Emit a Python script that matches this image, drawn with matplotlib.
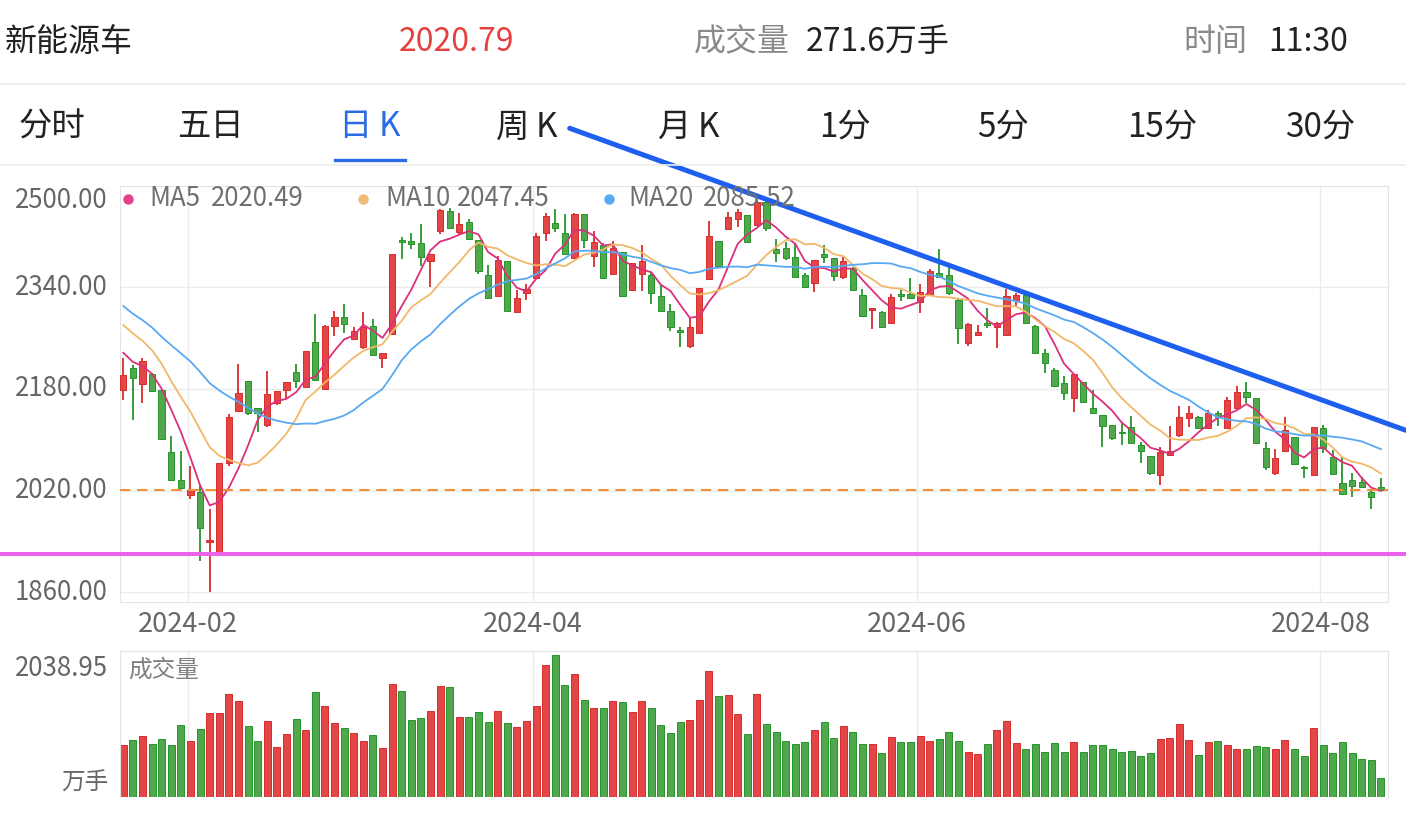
import numpy as np
import pandas as pd
import matplotlib
matplotlib.use('Agg')
import matplotlib.pyplot as plt

plt.rcParams['font.family'] = ['Noto Sans CJK SC', 'DejaVu Sans']

# ---- data (daily K, 2024-01-23 .. 2024-08-09) ----
opens = [2178.3, 2212.4, 2187.8, 2203.0, 2178.3, 2081.3, 2036.8, 2013.2, 2018.4, 1938.7,
         1924.0, 2064.0, 2145.3, 2192.5, 2149.5, 2123.3, 2158.4, 2178.3, 2206.1, 2183.6,
         2253.3, 2179.4, 2279.5, 2293.7, 2259.1, 2246.5, 2279.5, 2229.2, 2266.4, 2414.3,
         2413.2, 2409.0, 2381.2, 2429.0, 2460.4, 2427.4, 2443.1, 2414.3, 2359.2, 2326.2,
         2381.2, 2300.5, 2330.4, 2354.0, 2424.8, 2440.5, 2424.8, 2385.4, 2454.7, 2389.6,
         2406.4, 2360.3, 2396.0, 2335.6, 2360.8, 2359.2, 2326.2, 2302.6, 2272.7, 2248.1,
         2267.5, 2352.4, 2413.2, 2431.0, 2447.3, 2453.6, 2437.9, 2474.6, 2399.6, 2402.2,
         2388.1, 2359.2, 2347.2, 2392.3, 2385.4, 2356.6, 2369.7, 2327.8, 2304.2, 2301.6,
         2284.3, 2328.8, 2328.8, 2317.3, 2327.8, 2362.9, 2359.2, 2319.9, 2251.7, 2264.9,
         2283.2, 2278.0, 2264.9, 2319.9, 2327.8, 2279.5, 2236.0, 2209.8, 2188.8, 2165.2,
         2191.4, 2149.5, 2139.0, 2123.3, 2112.8, 2120.7, 2091.8, 2074.5, 2044.6, 2076.1,
         2107.6, 2133.8, 2135.4, 2118.1, 2141.6, 2118.1, 2149.5, 2175.7, 2165.2, 2087.6,
         2047.3, 2082.9, 2105.0, 2057.8, 2044.6, 2118.1, 2073.5, 2031.5, 2036.8, 2034.2,
         2018.4, 2025.2]
highs = [2228.2, 2217.7, 2228.2, 2205.0, 2179.0, 2106.0, 2082.9, 2058.8, 2028.9, 1990.6,
         2064.0, 2140.1, 2218.7, 2192.5, 2150.5, 2208.2, 2176.8, 2191.4, 2219.2, 2240.5,
         2297.9, 2280.0, 2302.6, 2313.1, 2278.0, 2300.5, 2289.5, 2237.1, 2392.3, 2419.5,
         2425.8, 2439.4, 2392.0, 2462.5, 2464.1, 2457.3, 2447.3, 2414.3, 2374.9, 2389.1,
         2381.2, 2335.6, 2345.1, 2425.8, 2456.2, 2462.5, 2454.7, 2456.0, 2455.0, 2428.4,
         2410.1, 2413.2, 2396.0, 2377.6, 2406.4, 2362.9, 2343.5, 2313.6, 2276.9, 2291.1,
         2339.3, 2444.7, 2413.2, 2457.8, 2462.5, 2454.0, 2477.2, 2477.0, 2415.3, 2411.6,
         2407.5, 2361.8, 2383.0, 2406.4, 2385.4, 2388.1, 2371.3, 2336.7, 2307.0, 2302.6,
         2329.3, 2335.6, 2354.0, 2345.1, 2368.1, 2399.6, 2369.7, 2322.5, 2283.2, 2280.6,
         2306.8, 2285.8, 2336.7, 2330.4, 2330.4, 2280.6, 2242.3, 2212.4, 2200.4, 2203.0,
         2191.4, 2178.3, 2139.0, 2123.3, 2125.9, 2137.5, 2097.1, 2074.5, 2089.2, 2121.7,
         2153.2, 2153.2, 2137.5, 2146.9, 2145.8, 2166.8, 2184.6, 2190.9, 2165.2, 2097.1,
         2085.0, 2135.4, 2105.0, 2059.3, 2120.7, 2123.3, 2084.0, 2072.4, 2048.3, 2041.0,
         2022.1, 2040.5]
lows = [2162.6, 2131.2, 2157.4, 2175.0, 2101.0, 2036.0, 2023.0, 2006.4, 1909.9, 1861.1,
        1924.0, 2058.8, 2143.2, 2139.0, 2111.8, 2120.7, 2154.8, 2164.2, 2180.9, 2182.5,
        2194.0, 2179.0, 2263.8, 2267.5, 2257.0, 2242.8, 2233.0, 2213.5, 2266.4, 2384.4,
        2399.6, 2373.9, 2340.9, 2423.7, 2432.6, 2423.7, 2415.0, 2360.8, 2322.0, 2326.0,
        2302.6, 2300.5, 2319.9, 2354.0, 2413.2, 2427.4, 2392.0, 2385.0, 2401.2, 2372.3,
        2354.0, 2360.0, 2326.7, 2335.6, 2334.6, 2313.6, 2303.0, 2271.7, 2246.5, 2243.9,
        2267.5, 2352.0, 2371.3, 2431.0, 2435.3, 2411.0, 2437.9, 2429.0, 2380.2, 2382.8,
        2355.0, 2338.2, 2332.0, 2378.6, 2350.3, 2352.4, 2334.6, 2295.0, 2273.8, 2278.0,
        2284.0, 2318.9, 2323.0, 2298.9, 2327.0, 2355.0, 2327.8, 2250.7, 2248.1, 2264.9,
        2275.3, 2243.9, 2264.9, 2310.5, 2283.0, 2237.0, 2205.6, 2183.6, 2162.6, 2144.2,
        2158.9, 2141.6, 2088.2, 2099.7, 2091.8, 2095.0, 2064.0, 2044.6, 2028.9, 2076.0,
        2105.0, 2120.7, 2116.5, 2116.5, 2121.7, 2116.5, 2148.0, 2158.4, 2094.5, 2052.5,
        2044.6, 2082.9, 2060.4, 2040.5, 2043.1, 2079.8, 2046.2, 2014.8, 2010.6, 2023.7,
        1990.6, 2020.0]
closes = [2201.9, 2197.7, 2224.0, 2176.8, 2101.3, 2036.8, 2023.7, 2021.0, 1960.7, 1942.4,
          2064.0, 2135.4, 2173.1, 2141.6, 2141.6, 2171.5, 2176.8, 2191.4, 2193.0, 2240.2,
          2194.1, 2279.5, 2293.7, 2282.2, 2271.1, 2278.0, 2233.4, 2237.1, 2392.3, 2410.6,
          2407.5, 2388.1, 2391.7, 2461.5, 2432.6, 2439.4, 2415.9, 2366.0, 2322.5, 2382.8,
          2302.6, 2322.5, 2337.2, 2420.6, 2452.0, 2432.6, 2392.3, 2455.2, 2414.3, 2411.6,
          2355.0, 2401.2, 2326.7, 2377.6, 2381.2, 2331.4, 2303.1, 2278.0, 2270.1, 2278.0,
          2339.3, 2421.1, 2373.4, 2449.9, 2457.8, 2411.6, 2474.6, 2432.6, 2393.3, 2385.4,
          2355.5, 2339.8, 2382.8, 2387.0, 2357.7, 2381.8, 2335.6, 2295.2, 2306.8, 2278.0,
          2325.2, 2326.2, 2323.6, 2333.0, 2366.0, 2355.5, 2331.4, 2275.3, 2282.2, 2270.1,
          2280.6, 2283.2, 2326.2, 2327.8, 2283.2, 2237.1, 2220.3, 2184.6, 2173.1, 2203.0,
          2160.0, 2142.7, 2121.7, 2102.3, 2110.2, 2095.5, 2082.9, 2047.3, 2081.3, 2082.9,
          2135.4, 2141.6, 2118.1, 2141.6, 2135.4, 2162.6, 2175.7, 2166.8, 2094.5, 2056.7,
          2070.9, 2115.4, 2062.0, 2056.2, 2120.7, 2086.6, 2046.2, 2014.8, 2027.3, 2025.2,
          2010.6, 2020.79]
# closes before the visible window, only used to warm up the moving averages
prior_closes = [2440, 2425, 2410, 2395, 2300, 2280, 2275, 2290, 2295, 2294,
                2330, 2340, 2325, 2316, 2310, 2270, 2255, 2240, 2218]
# volume, 万手
volumes = [742, 814, 871, 756, 838, 742, 1039, 804, 981, 1211,
           1206, 1484, 1383, 1024, 799, 1096, 718, 905, 1120, 957,
           1508, 1302, 1067, 986, 924, 809, 885, 708, 1622, 1517,
           1101, 1130, 1240, 1599, 1579, 1144, 1149, 1220, 1072, 1240,
           1058, 1010, 1096, 1307, 1890, 2038.95, 1613, 1766, 1398, 1283,
           1283, 1378, 1364, 1216, 1383, 1273, 1034, 914, 1082, 1110,
           1398, 1809, 1450, 1460, 1192, 909, 1479, 1043, 928, 799,
           756, 785, 957, 1077, 842, 1024, 928, 756, 756, 632,
           857, 785, 785, 876, 799, 828, 928, 809, 651, 613,
           756, 957, 1086, 775, 694, 756, 641, 771, 646, 794,
           641, 742, 751, 684, 651, 656, 593, 627, 833, 852,
           1048, 814, 598, 790, 799, 742, 684, 694, 732, 713,
           689, 818, 684, 589, 986, 747, 637, 785, 627, 541,
           531, 271.6]

month_labels = ['2024-02', '2024-04', '2024-06', '2024-08']
month_start_idx = [7, 43, 83, 125]
price_ticks = [1860, 2020, 2180, 2340, 2500]
ma_names = ['MA5', 'MA10', 'MA20']
ma_windows = [5, 10, 20]
ma_values_text = ['2020.49', '2047.45', '2085.52']
last_price = 2020.79
support_level = 1920
trend_pts = ([46.5, 133.6], [2590, 2115])
tabs = ['分时', '五日', '日\u2009K', '周\u2009K', '月\u2009K', '1分', '5分', '15分', '30分']

# ---- styling ----
RED, RED_E = '#e24646', '#d92b2b'
GRN, GRN_E = '#50a74c', '#23962a'
MA_COLORS = ['#dc2f7c', '#f0b868', '#58a8f2']
DOT_COLORS = ['#e2428a', '#f0bc75', '#58a8f5']
GRID = '#ececec'
LBL = '#666666'
FS = 18.6

W, H = 1406, 816
def fx(x): return x / W
def fy(y): return 1 - y / H

fig = plt.figure(figsize=(W / 100, H / 100), dpi=100)
fig.patch.set_facecolor('white')

n = len(closes)
x = np.arange(n)
up = np.array(closes) >= np.array(opens)
face = np.where(up, RED, GRN)
edge = np.where(up, RED_E, GRN_E)

allc = pd.Series(prior_closes + closes)
mas = [allc.rolling(w).mean().values[len(prior_closes):] for w in ma_windows]

xlim = (-0.34, 131.74)

# ---- header ----
fs_head = 23
fig.text(fx(5), fy(42), '新能源车', fontsize=fs_head, color='#222222', va='center')
fig.text(fx(456), fy(42), '2020.79', fontsize=fs_head, color='#e5403e', va='center', ha='center')
fig.text(fx(790), fy(42), '成交量', fontsize=fs_head, color='#8a8a8a', va='center', ha='right')
fig.text(fx(806), fy(42), '271.6万手', fontsize=fs_head, color='#222222', va='center')
fig.text(fx(1247), fy(42), '时间', fontsize=fs_head, color='#8a8a8a', va='center', ha='right')
fig.text(fx(1268), fy(42), '11:30', fontsize=fs_head, color='#222222', va='center')
fig.add_artist(plt.Line2D([0, 1], [fy(84), fy(84)], color='#eeeeee', lw=1.2))

tab_x = [52, 210, 370, 527, 689, 845, 1003, 1162, 1320]
for t, tx in zip(tabs, tab_x):
    c = '#2a6be6' if t.startswith('日') else '#222222'
    fig.text(fx(tx), fy(127), t, fontsize=24, color=c, va='center', ha='center')
fig.add_artist(plt.Line2D([fx(335), fx(405)], [fy(160), fy(160)], color='#2a6be6', lw=2.4))
fig.add_artist(plt.Line2D([0, 1], [fy(165), fy(165)], color='#eeeeee', lw=1.2))

# ---- price panel ----
ax = fig.add_axes([fx(120), fy(602), fx(1388) - fx(120), fy(185.5) - fy(602)])
ax.set_xlim(*xlim)
ax.set_ylim(1845, 2500)
for s in ax.spines.values():
    s.set_color('#e4e4e4')
ax.set_xticks([])
ax.set_yticks([])
for p in price_ticks[:-1]:
    ax.axhline(p, color=GRID, lw=1, zorder=0)
for mi in month_start_idx:
    ax.axvline(mi - 0.3, color=GRID, lw=1, zorder=0)

ax.vlines(x, lows, highs, colors=edge, lw=1.3, zorder=2)
body_lo = np.minimum(opens, closes)
body_h = np.maximum(np.abs(np.array(closes) - np.array(opens)), 1.6)
ax.bar(x, body_h, bottom=body_lo, width=0.66, color=face, edgecolor=edge, lw=0.7, zorder=3)

for m, c in zip(mas, MA_COLORS):
    ax.plot(x, m, color=c, lw=1.3, zorder=4)

ax.axhline(last_price, color='#f0923c', lw=1.5, dashes=(5, 3.2), zorder=5)
ax.plot([-12.9, 133.6], [support_level] * 2, color='#ea63ea', lw=2.9, clip_on=False, zorder=6)

dpt = 0.72  # points per pixel
for p in price_ticks:
    dy = -14.5 if p == price_ticks[-1] else 0
    ax.annotate(f'{p:.2f}', xy=(0, p), xycoords=('axes fraction', 'data'),
                xytext=(-12 * dpt, dy * dpt), textcoords='offset points',
                ha='right', va='center', fontsize=FS, color=LBL, annotation_clip=False)
for lab, mi in zip(month_labels, month_start_idx):
    ax.annotate(lab, xy=(mi - 0.3, 0), xycoords=('data', 'axes fraction'),
                xytext=(0, -22 * dpt), textcoords='offset points',
                ha='center', va='center', fontsize=19.5, color=LBL, annotation_clip=False)

# legend
leg_dot_x = [128, 363, 609]
leg_name_x = [149, 385, 628]
leg_val_x = [211, 457, 703]
for name, val, dc, dx, nx_, vx in zip(ma_names, ma_values_text, DOT_COLORS,
                                      leg_dot_x, leg_name_x, leg_val_x):
    fig.add_artist(plt.Line2D([fx(dx)], [fy(199)], marker='o', ms=6.5, color=dc, lw=0))
    fig.text(fx(nx_), fy(199), name, fontsize=FS, color='#707070', va='center')
    fig.text(fx(vx), fy(199), val, fontsize=FS, color='#707070', va='center')

# ---- volume panel ----
vax = fig.add_axes([fx(120), fy(797), fx(1388) - fx(120), fy(651) - fy(797)])
vax.set_xlim(*xlim)
vax.set_ylim(0, 2096)
for k, s in vax.spines.items():
    s.set_color('#e4e4e4')
vax.spines['bottom'].set_visible(False)
vax.set_xticks([])
vax.set_yticks([])
for mi in month_start_idx:
    vax.axvline(mi - 0.3, color=GRID, lw=1, zorder=0)
vax.bar(x, volumes, width=0.74, color=face, edgecolor=edge, lw=0.7, zorder=2)
fig.text(fx(108), fy(668), '2038.95', fontsize=FS, color=LBL, ha='right', va='center')
fig.text(fx(108), fy(783), '万手', fontsize=17, color=LBL, ha='right', va='center')
fig.text(fx(128), fy(670), '成交量', fontsize=17, color='#808080', va='center')

# hand-drawn trend line over everything
ax.plot(trend_pts[0], trend_pts[1], color='#1f5ff0', lw=3.6, clip_on=False,
        solid_capstyle='round', zorder=10)

fig.savefig('out.png', dpi=100)
